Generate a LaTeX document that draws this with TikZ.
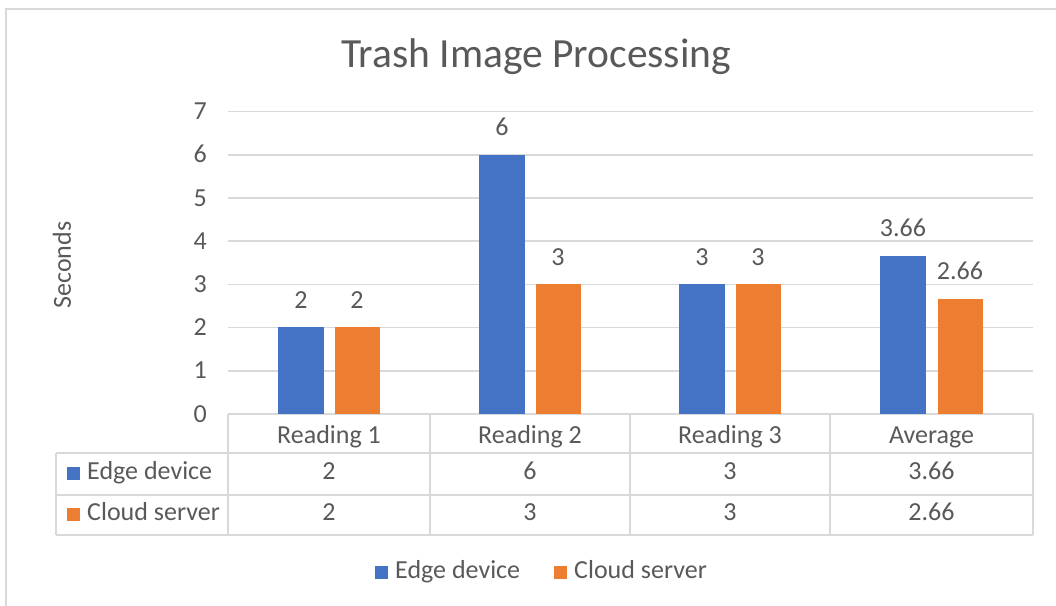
\documentclass[tikz,border=0pt]{standalone}
\usepackage{fontspec}
\setmainfont{Carlito}
\definecolor{edge}{HTML}{4472C4}
\definecolor{cloud}{HTML}{ED7D31}
\definecolor{txt}{HTML}{595959}
\definecolor{gridc}{HTML}{D9D9D9}
\tikzset{
  lab/.style={inner sep=0pt, text=txt, font=\fontsize{26}{31}\selectfont},
  titlelab/.style={inner sep=0pt, text=txt, font=\fontsize{41.5}{48}\selectfont},
  ebar/.style={fill=edge, draw=none, minimum width=46pt, inner sep=0pt, anchor=south},
  cbar/.style={fill=cloud, draw=none, minimum width=45pt, inner sep=0pt, anchor=south},
  gline/.style={draw=gridc, line width=1.5pt},
  tline/.style={draw=gridc, line width=2pt},
  esq/.style={fill=edge, minimum size=13pt, inner sep=0pt},
  csq/.style={fill=cloud, minimum size=13pt, inner sep=0pt},
  val/.style={lab, anchor=base, yshift=19pt},
  ylab/.style={lab, anchor=base east, yshift=-8pt},
}
\begin{document}
\begin{tikzpicture}[x=1pt,y=-1pt]
\useasboundingbox (0,0) rectangle (1056,605);
\fill[white] (0,0) rectangle (1056,605);
% outer frame
\draw[tline] (6,606) -- (6,9) -- (1057,9);
% title
\node[titlelab, anchor=base] (title) at (536,67) {Trash Image Processing};
% axis title
\node[lab, rotate=90] (ytitle) at (62,265) {Seconds};
% gridlines and y labels
\foreach \v in {1,...,7} {
  \draw[gline] (228,{414-43.2*\v}) -- (1033,{414-43.2*\v});
}
\foreach \v in {0,...,7} {
  \node[ylab] (y\v) at (207,{414-43.2*\v}) {\v};
}
% table
\draw[tline] (228,414) -- (1033,414);
\draw[tline] (56,453) -- (1033,453);
\draw[tline] (56,495) -- (1033,495);
\draw[tline] (56,535) -- (1033,535);
\draw[tline] (56,453) -- (56,535);
\foreach \xx in {228,430,630,830,1033} {
  \draw[tline] (\xx,414) -- (\xx,535);
}
% bars
\node[ebar, minimum height=86.4pt] (e1) at (301,414) {};
\node[cbar, minimum height=86.4pt] (c1) at (357,414) {};
\node[ebar, minimum height=259.2pt] (e2) at (502,414) {};
\node[cbar, minimum height=129.6pt] (c2) at (558,414) {};
\node[ebar, minimum height=129.6pt] (e3) at (702,414) {};
\node[cbar, minimum height=129.6pt] (c3) at (758,414) {};
\node[ebar, minimum height=158.1pt] (e4) at (903,414) {};
\node[cbar, minimum height=114.9pt] (c4) at (960,414) {};
% data labels
\node[val] (le1) at (e1.north) {2};
\node[val] (lc1) at (c1.north) {2};
\node[val] (le2) at (e2.north) {6};
\node[val] (lc2) at (c2.north) {3};
\node[val] (le3) at (e3.north) {3};
\node[val] (lc3) at (c3.north) {3};
\node[val] (le4) at (e4.north) {3.66};
\node[val] (lc4) at (c4.north) {2.66};
% table header
\node[lab, anchor=base] (h1) at (329,443) {Reading 1};
\node[lab, anchor=base] (h2) at (530,443) {Reading 2};
\node[lab, anchor=base] (h3) at (730,443) {Reading 3};
\node[lab, anchor=base] (h4) at (931.5,443) {Average};
% table rows
\node[esq] (rs1) at (73.5,473) {};
\node[lab, anchor=base west] (rl1) at (87,479) {Edge device};
\node[csq] (rs2) at (73.5,514) {};
\node[lab, anchor=base west] (rl2) at (87,520) {Cloud server};
\node[lab, anchor=base] (t11) at (329,479) {2};
\node[lab, anchor=base] (t12) at (530,479) {6};
\node[lab, anchor=base] (t13) at (730,479) {3};
\node[lab, anchor=base] (t14) at (931.5,479) {3.66};
\node[lab, anchor=base] (t21) at (329,520) {2};
\node[lab, anchor=base] (t22) at (530,520) {3};
\node[lab, anchor=base] (t23) at (730,520) {3};
\node[lab, anchor=base] (t24) at (931.5,520) {2.66};
% legend
\node[esq] (ls1) at (381,572) {};
\node[lab, anchor=base west] (ll1) at (395,578) {Edge device};
\node[csq] (ls2) at (560,572) {};
\node[lab, anchor=base west] (ll2) at (574,578) {Cloud server};
\end{tikzpicture}
\end{document}
